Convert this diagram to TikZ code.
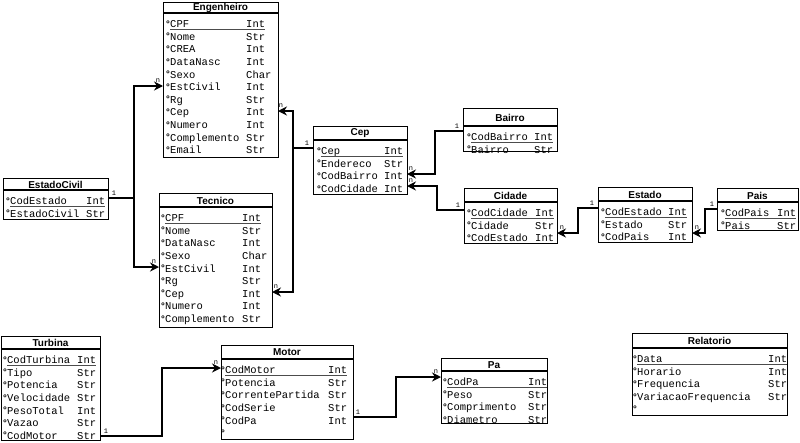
\documentclass[tikz,border=0pt]{standalone}
\usepackage{fontspec}
\setmainfont{Liberation Sans}
\newfontfamily\monof{Liberation Mono}
\usetikzlibrary{arrows.meta}
\tikzset{
  tbl/.style={draw=black, line width=1.4pt, fill=white, inner sep=0pt, anchor=north west},
  sepline/.style={draw=black, line width=1.2pt},
  ttl/.style={inner sep=0pt, font=\fontsize{10}{11}\selectfont\bfseries},
  attr/.style={inner sep=0pt, anchor=base west, font=\monof\fontsize{10.5}{12.6}\selectfont},
  pre/.style={inner sep=0pt, anchor=base east, font=\fontsize{9.5}{10}\selectfont\bfseries},
  keyline/.style={draw=black!70, line width=0.8pt},
  conn/.style={draw=black, line width=1.4pt},
  many/.style={-{Stealth[length=9pt,width=9pt,inset=3pt]}},
  lbl/.style={inner sep=0pt, font=\monof\fontsize{7}{8}\selectfont},
}
% #1 id, #2 left, #3 top, #4 right, #5 bottom, #6 sep, #7 title
\newcommand\enttable[7]{%
  \node[tbl, minimum width={(#4-#2)*1pt}, minimum height={(#5-#3)*1pt}] (#1) at (#2,#3) {};
  \draw[sepline] (#2,#6) -- (#4,#6);
  \node[ttl] (#1-title) at ({(#2+#4)/2},{(#3+#6)/2+0.5}) {#7};
}
% #1 id, #2 sep, #3 namex, #4 typex, #5 rows
\newcommand\entrows[5]{%
  \foreach \i/\k/\n/\t in {#5} {
    \pgfmathsetmacro\ry{#2+11+(\i-1)*12.6}
    \node[pre] (#1-p\i) at ({#3+0.2},{\ry+3.2}) {\ifx\k k*\else°\fi};
    \node[attr] (#1-n\i) at (#3,{\ry+3.6}) {\n};
    \node[attr] (#1-t\i) at (#4,{\ry+3.6}) {\t};
  }
  \draw[keyline] ([yshift=-1.6pt]#1-n1.base west) -- ([yshift=-1.6pt]#1-t1.base east);
}
\begin{document}
\begin{tikzpicture}[x=1pt,y=-1pt]
\useasboundingbox[fill=white] (0,0) rectangle (800,442);

% Engenheiro
\enttable{eng}{163}{2}{278}{157}{13}{Engenheiro}
\entrows{eng}{13}{170}{246}{1/k/CPF/Int,2/o/Nome/Str,3/o/CREA/Int,4/o/DataNasc/Int,5/o/Sexo/Char,6/o/EstCivil/Int,7/o/Rg/Str,8/o/Cep/Int,9/o/Numero/Int,10/o/Complemento/Str,11/o/Email/Str}

% Tecnico
\enttable{tec}{159}{193}{272}{327}{207}{Tecnico}
\entrows{tec}{207}{165}{242}{1/k/CPF/Int,2/o/Nome/Str,3/o/DataNasc/Int,4/o/Sexo/Char,5/o/EstCivil/Int,6/o/Rg/Str,7/o/Cep/Int,8/o/Numero/Int,9/o/Complemento/Str}

% Cep
\enttable{cep}{313}{126}{407}{194}{140}{Cep}
\entrows{cep}{140}{321}{384}{1/k/Cep/Int,2/o/Endereco/Str,3/o/CodBairro/Int,4/o/CodCidade/Int}

% Bairro
\enttable{bai}{463}{108}{557}{151}{126}{Bairro}
\entrows{bai}{126}{471}{534}{1/k/CodBairro/Int,2/o/Bairro/Str}

% Cidade
\enttable{cid}{464}{188}{557}{243}{202}{Cidade}
\entrows{cid}{202}{471}{535}{1/k/CodCidade/Int,2/o/Cidade/Str,3/o/CodEstado/Int}

% Estado
\enttable{est}{598}{187}{692}{242}{201}{Estado}
\entrows{est}{201}{605}{668}{1/k/CodEstado/Int,2/o/Estado/Str,3/o/CodPais/Int}

% Pais
\enttable{pai}{717}{188}{798}{230}{202}{Pais}
\entrows{pai}{202}{725}{777}{1/k/CodPais/Int,2/o/Pais/Str}

% EstadoCivil
\enttable{eci}{3}{178}{108}{219}{190}{EstadoCivil}
\entrows{eci}{190}{10}{86}{1/k/CodEstado/Int,2/o/EstadoCivil/Str}

% Turbina
\enttable{tur}{1}{336}{100}{440}{349}{Turbina}
\entrows{tur}{349}{7}{77}{1/k/CodTurbina/Int,2/o/Tipo/Str,3/o/Potencia/Str,4/o/Velocidade/Str,5/o/PesoTotal/Int,6/o/Vazao/Str,7/o/CodMotor/Str}

% Motor
\enttable{mot}{221}{345}{353}{439}{359}{Motor}
\entrows{mot}{359}{225}{328}{1/k/CodMotor/Int,2/o/Potencia/Str,3/o/CorrentePartida/Str,4/o/CodSerie/Str,5/o/CodPa/Int,6/o/{}/{}}

% Pa
\enttable{pa}{441}{358}{547}{423}{371}{Pa}
\entrows{pa}{371}{447}{528}{1/k/CodPa/Int,2/o/Peso/Str,3/o/Comprimento/Str,4/o/Diametro/Str}

% Relatorio
\enttable{rel}{632}{333}{787}{415}{348}{Relatorio}
\entrows{rel}{348}{637}{768}{1/k/Data/Int,2/o/Horario/Int,3/o/Frequencia/Str,4/o/VariacaoFrequencia/Str,5/o/{}/{}}

% ---- connectors ----
% EstadoCivil -> Engenheiro / Tecnico
\coordinate (eciOut) at (108,198);
\coordinate (eciBend) at (134,198);
\coordinate (engIn) at (163,86);
\coordinate (tecIn) at (159,267);
\draw[conn] (eciOut) -- (eciBend);
\draw[conn,many] (eciBend) |- (engIn);
\draw[conn,many] (eciBend) |- (tecIn);
\node[lbl] (l1a) at (114,193) {1};
\node[lbl] (na1) at (158,81) {n};
\node[lbl] (na2) at (154,262) {n};

% Cep -> Engenheiro / Tecnico
\coordinate (cepOut) at (313,148);
\coordinate (cepBend) at (293,148);
\coordinate (engIn2) at (278,111);
\coordinate (tecIn2) at (272,292);
\draw[conn] (cepOut) -- (cepBend);
\draw[conn,many] (cepBend) |- (engIn2);
\draw[conn,many] (cepBend) |- (tecIn2);
\node[lbl] (l1b) at (307,143) {1};
\node[lbl] (nb1) at (281,106) {n};
\node[lbl] (nb2) at (276,287) {n};

% Bairro -> Cep
\coordinate (baiOut) at (463,131);
\coordinate (baiBend) at (435,131);
\coordinate (cepIn1) at (407,174);
\draw[conn,many] (baiOut) -- (baiBend) |- (cepIn1);
\node[lbl] (l1c) at (457,126) {1};
\node[lbl] (nc1) at (411,169) {n};

% Cidade -> Cep
\coordinate (cidOut) at (464,210);
\coordinate (cidBend) at (437,210);
\coordinate (cepIn2) at (407,186);
\draw[conn,many] (cidOut) -- (cidBend) |- (cepIn2);
\node[lbl] (l1d) at (458,205) {1};
\node[lbl] (nd1) at (411,181) {n};

% Estado -> Cidade
\coordinate (estOut) at (598,208);
\coordinate (estBend) at (578,208);
\coordinate (cidIn) at (557,233);
\draw[conn,many] (estOut) -- (estBend) |- (cidIn);
\node[lbl] (l1e) at (592,203) {1};
\node[lbl] (ne1) at (562,228) {n};

% Pais -> Estado
\coordinate (paiOut) at (717,209);
\coordinate (paiBend) at (705,209);
\coordinate (estIn) at (692,233);
\draw[conn,many] (paiOut) -- (paiBend) |- (estIn);
\node[lbl] (l1f) at (712,204) {1};
\node[lbl] (nf1) at (697,228) {n};

% Turbina -> Motor
\coordinate (turOut) at (100,436);
\coordinate (turBend) at (162,436);
\coordinate (motIn) at (221,368);
\draw[conn,many] (turOut) -- (turBend) |- (motIn);
\node[lbl] (l1g) at (106,431) {1};
\node[lbl] (ng1) at (216,363) {n};

% Motor -> Pa
\coordinate (motOut) at (353,417);
\coordinate (motBend) at (396,417);
\coordinate (paIn) at (441,377);
\draw[conn,many] (motOut) -- (motBend) |- (paIn);
\node[lbl] (l1h) at (358,412) {1};
\node[lbl] (nh1) at (436,372) {n};
\end{tikzpicture}
\end{document}
